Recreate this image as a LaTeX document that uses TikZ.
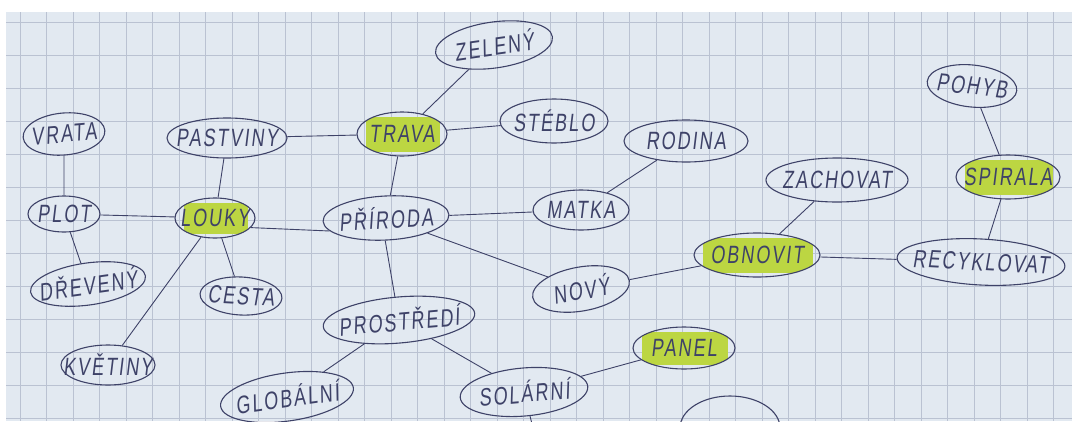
\documentclass[tikz,border=0pt]{standalone}
\usepackage{fontspec}
\newfontfamily\hand[FakeStretch=0.72,FakeSlant=0.12,LetterSpace=8]{Liberation Sans}
\usetikzlibrary{shapes.geometric,calc}
\definecolor{paper}{RGB}{226,233,241}
\definecolor{gridline}{RGB}{186,194,210}
\definecolor{ink}{RGB}{62,66,104}
\definecolor{marker}{RGB}{188,214,66}

\begin{document}
\begin{tikzpicture}[x=1pt,y=-1pt,
    idea/.style={ellipse, draw=ink, line width=1.1pt, text=ink, inner xsep=-24pt, inner ysep=0pt,
      font=\hand\fontsize{25}{25}\selectfont},
    hl/.style={path picture={\fill[marker] ($(path picture bounding box.south west)+(9,-4)$)
      rectangle ($(path picture bounding box.north east)+(-7,5)$);}},
    link/.style={draw=ink, line width=0.9pt}]

    % Sheet and squares
    \clip (0,0) rectangle (1072,421);
    \fill[white] (0,0) rectangle (1072,421);
    \fill[paper] (6,12) rectangle (1072,421);
    \foreach \gx in {20,46.5,...,1072}
        \draw[gridline, line width=0.5pt] (\gx,12) -- (\gx,421);
    \foreach \gy in {22,55,...,421}
        \draw[gridline, line width=0.5pt] (6,\gy) -- (1072,\gy);

    % Centre
    \node[idea, minimum width=126, minimum height=44, rotate=3] (priroda) at (386,218) {PŘÍRODA};

    % Upper branch
    \node[idea, hl, minimum width=90, minimum height=44] (trava) at (402,134) {TRAVA};
    \node[idea, minimum width=118, minimum height=46, rotate=8] (zeleny) at (494,45) {ZELENÝ};
    \node[idea, minimum width=108, minimum height=44] (steblo) at (554,121) {STÉBLO};
    \node[idea, minimum width=120, minimum height=40] (pastviny) at (227,138) {PASTVINY};

    % Left branch
    \node[idea, hl, minimum width=80, minimum height=40] (louky) at (215,218) {LOUKY};
    \node[idea, minimum width=72, minimum height=36] (plot) at (64,214) {PLOT};
    \node[idea, minimum width=82, minimum height=42, rotate=5] (vrata) at (64,134) {VRATA};
    \node[idea, minimum width=116, minimum height=42, rotate=8] (dreveny) at (88,284) {DŘEVENÝ};
    \node[idea, minimum width=82, minimum height=38, rotate=-3] (cesta) at (241,296) {CESTA};
    \node[idea, minimum width=94, minimum height=40] (kvetiny) at (108,365) {KVĚTINY};

    % Lower branch
    \node[idea, minimum width=152, minimum height=46, rotate=5] (prostredi) at (399,320) {PROSTŘEDÍ};
    \node[idea, minimum width=134, minimum height=48, rotate=8] (globalni) at (287,397) {GLOBÁLNÍ};
    \node[idea, minimum width=128, minimum height=48, rotate=5] (solarni) at (524,392) {SOLÁRNÍ};
    \node[idea, hl, minimum width=102, minimum height=42] (panel) at (684,348) {PANEL};
    \node[idea, minimum width=100, minimum height=64] (cut) at (730,428) {};
    \coordinate (down) at (536,440);

    % Right branch
    \node[idea, minimum width=96, minimum height=40] (matka) at (581,210) {MATKA};
    \node[idea, minimum width=124, minimum height=42] (rodina) at (686,141) {RODINA};
    \node[idea, minimum width=98, minimum height=44, rotate=10] (novy) at (581,289) {NOVÝ};
    \node[idea, hl, minimum width=126, minimum height=44] (obnovit) at (757,255) {OBNOVIT};
    \node[idea, minimum width=142, minimum height=44] (zachovat) at (837,180) {ZACHOVAT};
    \node[idea, minimum width=168, minimum height=46, rotate=-3] (recyklovat) at (981,262) {RECYKLOVAT};
    \node[idea, hl, minimum width=104, minimum height=44] (spirala) at (1008,177) {SPIRALA};
    \node[idea, minimum width=90, minimum height=42, rotate=-6] (pohyb) at (972,86) {POHYB};

    % Connections
    \draw[link] (priroda) -- (trava);
    \draw[link] (trava) -- (zeleny);
    \draw[link] (trava) -- (steblo);
    \draw[link] (trava) -- (pastviny);
    \draw[link] (priroda.190) -- (louky.-15);
    \draw[link] (louky) -- (pastviny);
    \draw[link] (louky) -- (plot);
    \draw[link] (louky) -- (cesta);
    \draw[link] (louky) -- (kvetiny);
    \draw[link] (plot) -- (vrata);
    \draw[link] (plot) -- (dreveny);
    \draw[link] (priroda.-95) -- (prostredi.95);
    \draw[link] (prostredi) -- (globalni);
    \draw[link] (prostredi) -- (solarni);
    \draw[link] (solarni) -- (panel);
    \draw[link] (solarni) -- (down);
    \draw[link] (priroda) -- (matka);
    \draw[link] (matka) -- (rodina);
    \draw[link] (priroda) -- (novy);
    \draw[link] (novy) -- (obnovit);
    \draw[link] (obnovit) -- (zachovat);
    \draw[link] (obnovit) -- (recyklovat);
    \draw[link] (recyklovat) -- (spirala);
    \draw[link] (spirala) -- (pohyb);
\end{tikzpicture}
\end{document}
